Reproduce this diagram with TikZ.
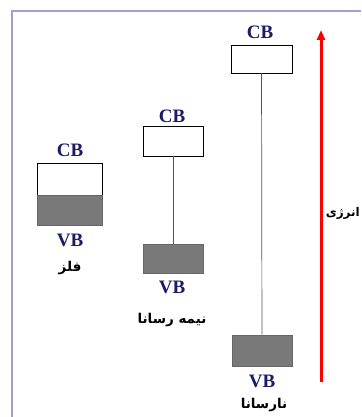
\documentclass[tikz,border=0pt]{standalone}
\usepackage{fontspec}
\setmainfont{Liberation Serif}
\newfontfamily\arabicfont[Script=Arabic]{DejaVu Sans}
\TeXXeTstate=1
\usepackage{xcolor}
\usetikzlibrary{positioning}
\usetikzlibrary{arrows.meta}
\definecolor{bandblue}{HTML}{1C1C66}
\definecolor{framecol}{HTML}{A99DD2}
\definecolor{gapline}{HTML}{555555}
\tikzstyle{cb} = [rectangle, draw=black, line width=0.8pt, fill=white, minimum width=62pt, minimum height=30pt, inner sep=0pt]
\tikzstyle{vb} = [rectangle, draw=gray!80!black, line width=0.6pt, fill=gray!95!black, minimum width=62pt, minimum height=30pt, inner sep=0pt]
\tikzstyle{band} = [text=bandblue, font=\fontsize{19}{19}\selectfont\bfseries, inner sep=0pt]
\tikzstyle{falabel} = [font=\fontsize{13.5}{13.5}\selectfont\arabicfont\bfseries, inner sep=0pt]
\tikzstyle{gap} = [gapline, line width=0.7pt]
\tikzstyle{energy} = [red, line width=3pt, -{Triangle[length=10pt,width=8pt]}]

\begin{document}
\begin{tikzpicture}[x=1pt,y=-1pt]
\useasboundingbox (0,0) rectangle (361,417);
\draw[framecol, line width=1.8pt] (12,417) -- (12,11) -- (361,11);
% metal
\node (cb1) [cb, minimum width=65pt, minimum height=32pt] at (69.5,179) {};
\node (vb1) [vb, minimum width=65pt, minimum height=30pt] at (69.5,210) {};
\node (lcb1) [band] at (70,150) {CB};
\node (lvb1) [band] at (70,240) {VB};
\node (n1) [falabel] at (70,268) {\beginR فلز\endR};
% semiconductor
\node (cb2) [cb, minimum width=60pt] at (173,141) {};
\node (vb2) [vb, minimum width=60pt, minimum height=29pt] at (173,258.5) {};
\node (lcb2) [band] at (172,116) {CB};
\node (lvb2) [band] at (172,287) {VB};
\node (n2) [falabel] at (172,320) {\beginR نیمه رسانا\endR};
\draw[gap] (cb2)--(vb2);
% insulator
\node (cb3) [cb, minimum width=61pt, minimum height=28pt] at (261.5,59) {};
\node (vb3) [vb, minimum width=60pt, minimum height=31pt] at (262,350.5) {};
\node (lcb3) [band] at (260,32) {CB};
\node (lvb3) [band] at (262,381) {VB};
\node (n3) [falabel] at (264,405) {\beginR نارسانا\endR};
\draw[gap] (cb3)--(vb3);
% energy axis
\coordinate (e0) at (321,382);
\coordinate (e1) at (321,30);
\draw[energy] (e0)--(e1);
\node (en) [falabel, font=\fontsize{12}{12}\selectfont\arabicfont\bfseries, anchor=east] at (360,213) {\beginR انرژی\endR};
\end{tikzpicture}
\end{document}
